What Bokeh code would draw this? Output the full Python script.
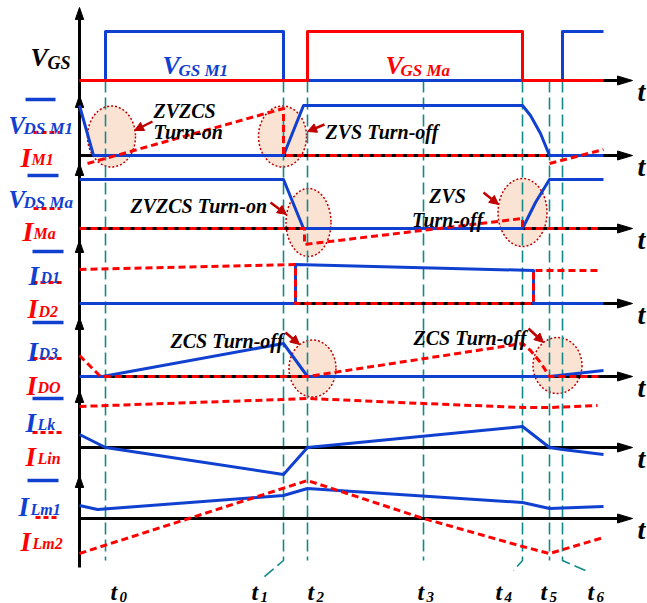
from bokeh.plotting import figure
from bokeh.models import Range1d, Arrow, NormalHead, Label
from bokeh.embed import file_html
from bokeh.resources import INLINE

# ---------------------------------------------------------------
# Switching instants (time units) and end of the drawn interval
# ---------------------------------------------------------------
T0, T1, T2, T3, T4, T5, T6 = 2.6, 20.4, 22.8, 34.4, 44.3, 47.0, 48.3
T_END = 52.4
instants = [T0, T1, T2, T3, T4, T5, T6]
instant_names = ["0", "1", "2", "3", "4", "5", "6"]

# ---------------------------------------------------------------
# Waveforms: times and amplitudes relative to each trace's zero line
# ---------------------------------------------------------------
vgs_m1_t = [0, T0, T0, T1, T1, T6, T6, T_END]
vgs_m1 = [0, 0, 4.9, 4.9, 0, 0, 4.9, 4.9]
vgs_ma_t = [0, T2, T2, T4, T4, T_END]
vgs_ma = [0, 0, 4.9, 4.9, 0, 0]

vds_m1_t = [0, 1.4, T1, 22.4, T4, 45.1, 46.1, T5, T_END]
vds_m1 = [5.0, 0, 0, 5.0, 5.0, 4.0, 2.2, 0, 0]
i_m1_t = [[0.8, T1, T1, T5], [T5, T_END]]
i_m1 = [[-0.8, 4.7, 0, 0], [-0.8, 0.6]]

vds_ma_t = [0, T1, 22.4, T4, 45.6, T5, T_END]
vds_ma = [4.9, 4.9, 0, 0, 2.6, 4.9, 4.9]
i_ma_t = [0, 22.5, 22.5, T4, T4, 51.9]
i_ma = [0, 0, -1.6, 1.0, 0, 0]

i_d1_t = [0, 21.6, 21.6, 45.4, 45.4, T_END]
i_d1 = [0, 0, 3.9, 3.3, 0, 0]
i_d2_t = [0, 21.6, 21.6, 45.4, 45.4, 51.9]
i_d2 = [3.4, 3.9, 0, 0, 3.3, 3.3]

i_d3_t = [0, 2.3, T1, T2, T5, T_END]
i_d3 = [0, 0, 3.3, 0, 0, 0.6]
i_do_t = [0, 2.1, T2, T4, 45.1, 46.1, T5, 51.9]
i_do = [2.1, 0, 0, 3.3, 2.6, 1.4, 0, 0]

i_lin_t = [0, T1, T2, T3, T4, T5, 51.8]
i_lin = [4.1, 4.8, 4.9, 4.4, 4.0, 4.0, 4.2]
i_lk_t = [0, T0, T1, T2, T4, T5, T6, T_END]
i_lk = [1.3, 0, -2.7, 0, 2.1, 0, -0.2, -0.7]

i_lm1_t = [0, 1.8, T1, T2, T4, T5, T_END]
i_lm1 = [1.3, 0.9, 2.3, 3.0, 1.6, 1.0, 1.2]
i_lm2_t = [0, T2, T3, T4, T5, T_END]
i_lm2 = [-3.5, 3.8, 0, -2.8, -3.5, -1.9]

# ---------------------------------------------------------------
# Page geometry: 10 px per unit, time origin on the vertical axis
# ---------------------------------------------------------------
W, H = 647, 603
PX = 10.0
ORIGIN_PX = 79


def X(px):
    return (px - ORIGIN_PX) / PX


def Y(py):
    return (H - py) / PX


BASE = {"gs": 80, "m1": 155, "ma": 228, "d1": 303, "d3": 376, "lk": 447, "lm": 518}
AXIS_TOPS = [7, 95, 163, 240, 317, 390, 475]
AXIS_BOTTOM = 567
ARROW_TIP_PX = 632

BLUE = "#1040d0"
RED = "#ff0000"
DARKRED = "#c00000"
TEAL = "#138a8a"
PEACH = "#fbe3d3"
SERIF = "Liberation Serif"
LW = 3
RED_DASH = "7 4"

p = figure(width=W, height=H, x_range=Range1d(X(0), X(W)), y_range=Range1d(0, H / PX),
           output_backend="svg", toolbar_location=None, min_border=0,
           x_axis_type=None, y_axis_type=None)
p.grid.visible = False
p.outline_line_color = None
p.background_fill_color = "white"


def yb(key, amps):
    return [Y(BASE[key]) + a for a in amps]


# ---- highlighted switching regions ----
ell_x = [111, 282, 308, 522, 312, 557]
ell_y = [136, 136, 222, 212, 368, 365]
ell_w = [48, 48, 45, 49, 47, 49]
ell_h = [61, 61, 68, 68, 57, 56]
p.ellipse(x=[X(v) for v in ell_x], y=[Y(v) for v in ell_y],
          width=[v / PX for v in ell_w], height=[v / PX for v in ell_h],
          fill_color=PEACH, line_color=DARKRED, line_dash="2 2", line_width=1.5)

# ---- dashed instant markers ----
tails = {1: (-2.0, -1.7), 4: (-0.9, -1.0), 6: (2.3, -1.0)}
mk_x, mk_y = [], []
for k, t in enumerate(instants):
    xs = [t, t]
    ys = [Y(80), Y(560)]
    if k in tails:
        dx, dy = tails[k]
        xs.append(t + dx)
        ys.append(Y(560) + dy)
    mk_x.append(xs)
    mk_y.append(ys)
p.multi_line(mk_x, mk_y, line_color=TEAL, line_width=1.6, line_dash="12 5")

# ---- axes ----
p.line([0, 0], [Y(AXIS_BOTTOM), Y(AXIS_TOPS[0] + 4)], line_color="black", line_width=LW)
for top in AXIS_TOPS:
    p.patch([0, -0.42, 0.42], [Y(top), Y(top) - 1.2, Y(top) - 1.2], color="black")
for key in BASE:
    yy = Y(BASE[key])
    p.line([0, X(ARROW_TIP_PX) - 1.0], [yy, yy], line_color="black", line_width=LW)
    tip = X(ARROW_TIP_PX)
    p.patch([tip, tip - 1.5, tip - 1.5], [yy, yy + 0.45, yy - 0.45], color="black")

# ---- waveforms ----
def trace(key, t, amps, color, dashed=False):
    kw = dict(line_color=color, line_width=LW, line_join="round")
    if dashed:
        kw["line_dash"] = RED_DASH
        kw["line_cap"] = "butt"
    if t and isinstance(t[0], list):
        p.multi_line(t, [yb(key, a) for a in amps], **kw)
    else:
        p.line(t, yb(key, amps), **kw)


trace("gs", vgs_m1_t, vgs_m1, BLUE)
trace("gs", vgs_ma_t, vgs_ma, RED)
trace("m1", vds_m1_t, vds_m1, BLUE)
trace("m1", i_m1_t, i_m1, RED, dashed=True)
trace("ma", vds_ma_t, vds_ma, BLUE)
trace("ma", i_ma_t, i_ma, RED, dashed=True)
trace("d1", i_d1_t, i_d1, BLUE)
trace("d1", i_d2_t, i_d2, RED, dashed=True)
trace("d3", i_d3_t, i_d3, BLUE)
trace("d3", i_do_t, i_do, RED, dashed=True)
trace("lk", i_lk_t, i_lk, BLUE)
trace("lk", i_lin_t, i_lin, RED, dashed=True)
trace("lm", i_lm1_t, i_lm1, BLUE)
trace("lm", i_lm2_t, i_lm2, RED, dashed=True)


# ---- text helpers ----
def text(px, py, s, color, size, align="left"):
    p.add_layout(Label(x=X(px), y=Y(py), text=s, text_color=color,
                       text_font=SERIF, text_font_style="bold italic",
                       text_font_size=f"{size}px", text_align=align,
                       text_baseline="alphabetic"))


# signal names: main letter + subscript
names = [
    ("V", 30, 57, 26, "GS", 47, 62, 18, "black"),
    ("V", 162, 65, 26, "GS M1", 178, 70, 17, BLUE),
    ("V", 385, 65, 26, "GS Ma", 400, 70, 17, RED),
    ("V", 8, 125, 25, "DS M1", 23, 128, 17, BLUE),
    ("I", 20, 157, 28, "M1", 31, 159, 16, RED),
    ("V", 8, 199, 25, "DS Ma", 23, 202, 17, BLUE),
    ("I", 22, 231, 28, "Ma", 33, 233, 16, RED),
    ("I", 28, 275, 27, "D1", 40, 277, 16, BLUE),
    ("I", 27, 308, 27, "D2", 38, 311, 16, RED),
    ("I", 27, 351, 27, "D3", 38, 353, 16, BLUE),
    ("I", 26, 385, 27, "DO", 37, 387, 16, RED),
    ("I", 25, 422, 27, "Lk", 37, 424, 16, BLUE),
    ("I", 25, 456, 27, "Lin", 37, 458, 16, RED),
    ("I", 18, 506, 27, "Lm1", 30, 509, 16, BLUE),
    ("I", 20, 541, 27, "Lm2", 32, 543, 16, RED),
]
for main, mx, my, ms, sub, sx, sy, ss, col in names:
    text(mx, my, main, col, ms)
    text(sx, sy, sub, col, ss)

# legend strokes next to the signal names
solid_keys = [(99, 25, 55), (175, 27, 58), (251, 32, 63), (322, 32, 63), (398, 32, 63), (480, 27, 58)]
dash_keys = [(132, 33, 60), (208, 33, 60), (282, 32, 62), (358, 32, 63), (432, 32, 63), (517, 35, 58)]
for yy, x1, x2 in solid_keys:
    p.line([X(x1), X(x2)], [Y(yy), Y(yy)], line_color=BLUE, line_width=3.5)
for yy, x1, x2 in dash_keys:
    p.line([X(x1), X(x2)], [Y(yy), Y(yy)], line_color=RED, line_width=3, line_dash="5 3")

# time-axis letters
for key in BASE:
    text(637, BASE[key] + 11, "t", "black", 28)

# instant labels
label_left = [110, 251, 307, 417, 495, 540, 587]
for lx, nm in zip(label_left, instant_names):
    text(lx, 591, "t", "black", 24)
    text(lx + 9, 596, nm, "black", 15)

# ---- switching annotations ----
notes = [
    (153, 110, "ZVZCS"), (153, 131, "Turn-on"),
    (325, 131, "ZVS Turn-off"),
    (130, 205, "ZVZCS Turn-on"),
    (170, 340, "ZCS Turn-off"),
    (413, 337, "ZCS Turn-off"),
]
for nx, ny, s in notes:
    text(nx, ny, s, "black", 20)
text(447, 195, "ZVS", "black", 20, align="center")
text(447, 219, "Turn-off", "black", 20, align="center")

pointers = [
    (152, 121, 134, 130),
    (324, 124, 307, 131),
    (270, 202, 286, 214),
    (483, 192, 498, 204),
    (285, 332, 299, 344),
    (528, 328, 543, 342),
]
for x1, y1, x2, y2 in pointers:
    p.add_layout(Arrow(end=NormalHead(size=9, fill_color=DARKRED, line_color=DARKRED),
                       x_start=X(x1), y_start=Y(y1), x_end=X(x2), y_end=Y(y2),
                       line_color=DARKRED, line_width=2.5))

open("out.html", "w").write(file_html(p, INLINE))
